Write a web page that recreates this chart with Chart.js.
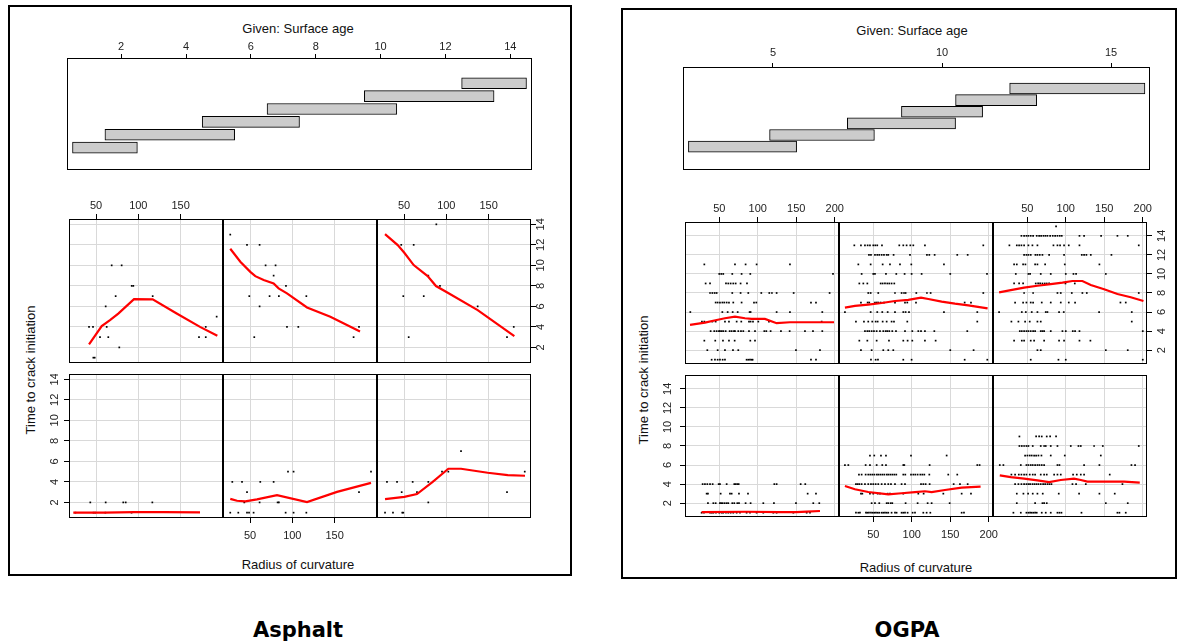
<!DOCTYPE html>
<html><head><meta charset="utf-8">
<script src="https://cdn.jsdelivr.net/npm/chart.js@4.4.1/dist/chart.umd.min.js"></script>
<style>
html,body{margin:0;padding:0;background:#fff;}
body{width:1183px;height:642px;position:relative;overflow:hidden;font-family:"Liberation Sans",Arial,sans-serif;color:#111;}
.frame{position:absolute;border:2px solid #000;box-sizing:border-box;}
.lbl{position:absolute;white-space:nowrap;font-size:13px;transform:translate(-50%,-50%);}
.rot{transform:translate(-50%,-50%) rotate(-90deg);}
.ttl{position:absolute;white-space:nowrap;font-family:"DejaVu Sans",sans-serif;font-weight:bold;font-size:21px;transform:translate(-50%,-50%);color:#000;}
canvas{position:absolute;}
</style></head><body>
<div class="frame" style="left:8px;top:5px;width:564px;height:571px;"></div>
<div class="frame" style="left:621px;top:8px;width:556px;height:571px;"></div>
<div class="lbl" style="left:298px;top:28px;">Given: Surface age</div>
<div class="lbl" style="left:912px;top:30px;">Given: Surface age</div>
<div class="lbl rot" style="left:30px;top:370px;">Time to crack initiation</div>
<div class="lbl rot" style="left:643px;top:380px;">Time to crack initiation</div>
<div class="lbl" style="left:298px;top:564px;">Radius of curvature</div>
<div class="lbl" style="left:916px;top:567px;">Radius of curvature</div>
<div class="ttl" style="left:298px;top:630px;">Asphalt</div>
<div class="ttl" style="left:907px;top:630px;">OGPA</div>
<script>
// ---------- tick labels ----------
const timeTicks = [2, 4, 6, 8, 10, 12, 14];
const asphaltRadiusTicks = [50, 100, 150];
const ogpaRadiusTicks = [50, 100, 150, 200];
const asphaltAgeTicks = [2, 4, 6, 8, 10, 12, 14];
const ogpaAgeTicks = [5, 10, 15];

// ---------- given intervals (surface age) ----------
const asphaltAgeFrom = [0.5, 1.5, 4.5, 6.5, 9.5, 12.5];
const asphaltAgeTo   = [2.5, 5.5, 7.5, 10.5, 13.5, 14.5];
const ogpaAgeFrom = [2.5, 4.9, 7.2, 8.8, 10.4, 12.0];
const ogpaAgeTo   = [5.7, 8.0, 10.4, 11.2, 12.8, 16.0];

// ---------- points: rows of [time to crack initiation, [radius values]] ----------
// Asphalt, panels 1..3 = bottom row, 4..6 = top row
const asphaltPts1 = [[2, [43.2, 61.4, 82.2, 85.1, 116.6]], [1, [25.6, 47.0, 49.0, 61.0, 92.0]]];
const asphaltPts2 = [[5, [94.9, 101.5, 193.1]], [4, [29.0, 40.5, 62.1, 77.9]], [3, [46.4, 178.9]], [2, [43.2, 61.3, 82.6, 84.1]], [1, [26.6, 36.1, 46.4, 48.8, 54.2, 92.1, 101.5, 116.6]]];
const asphaltPts3 = [[7, [117.4]], [5, [94.9, 102.4, 192.8]], [4, [29.8, 41.7, 60.2, 78.7]], [3, [47.2, 65.3, 171.8]], [2, [78.7]], [1, [27.5, 36.9, 47.9, 49.1]]];
const asphaltPts4 = [[10, [68.5, 80.3]], [8, [92.2, 94.1]], [7, [73.2, 117.0]], [6, [61.4]], [5, [192.7]], [4, [41.7, 46.4, 62.6, 179.8]], [3, [54.7, 64.5, 171.8, 179.8]], [2, [77.5]], [1, [46.8, 48.4]]];
const asphaltPts5 = [[13, [26.6]], [12, [46.4, 61.3]], [10, [68.4, 80.2]], [9, [77.9]], [8, [92.5]], [7, [49.1, 73.1, 84.1, 116.6]], [6, [61.3]], [4, [93.7, 107.1, 178.9]], [3, [55.0, 172.5]]];
const asphaltPts6 = [[14, [88.2]], [12, [46.7, 61.4]], [9, [78.7]], [8, [92.5]], [7, [49.1, 73.3]], [6, [137.1]], [4, [179.8]], [3, [55.5, 171.8]]];

// Asphalt smooth lines [radius, time]
const asphaltFit1 = [[23.1, 1.0], [60, 1.0], [95, 1.05], [130, 1.05], [173, 1.02]];
const asphaltFit2 = [[26.6, 2.35], [34.6, 2.16], [44.4, 2.1], [58.2, 2.29], [81.9, 2.71], [117.4, 2.03], [152.9, 3.03], [193.1, 3.91]];
const asphaltFit3 = [[27.5, 2.32], [50.3, 2.54], [65.3, 2.81], [83.9, 4.01], [102.4, 5.28], [117.4, 5.28], [149, 4.89], [172.7, 4.66], [193.1, 4.6]];
const asphaltFit4 = [[41.7, 2.3], [56.7, 4.08], [66.5, 4.66], [76.3, 5.3], [94.9, 6.7], [117, 6.68], [145.4, 5.3], [173, 4.0], [193.5, 3.13]];
const asphaltFit5 = [[26.6, 11.62], [38.5, 10.35], [50.3, 9.37], [56.2, 8.95], [66.1, 8.57], [77.9, 8.24], [83.8, 7.76], [93.7, 7.27], [117.4, 5.9], [145, 4.99], [180.1, 3.56]];
const asphaltFit6 = [[27.5, 13.05], [42.5, 11.98], [50.3, 11.23], [61.4, 10.03], [77.9, 8.96], [87.8, 7.98], [101.7, 7.33], [137.1, 5.64], [180.5, 3.1]];

// OGPA points
const ogpaPts1 = [
  [4, [28.4, 31.4, 34.5, 38.0, 41.4, 49.2, 50.9, 59.6, 69.5, 71.3, 73.4, 75.2, 121.5, 124.5, 155.7, 161.7]],
  [3, [33.6, 35.3, 51.8, 63.9, 66.1, 75.6, 87.3, 164.8, 175.6]],
  [2, [35.3, 42.3, 45.3, 50.9, 52.6, 54.4, 57.0, 59.6, 61.7, 66.9, 69.5, 73.4, 75.6, 84.2, 90.7, 107.2, 121.0, 149.6, 172.1, 179.9]],
  [1, [27.1, 30.1, 38.0, 40.1, 42.3, 45.7, 50.0, 53.1, 55.2, 58.7, 61.7, 64.8, 68.2, 72.6, 76.9, 85.5, 89.9, 98.5, 107.2, 120.2, 124.5, 146.2, 163.5, 167.8]]
];
const ogpaPts2 = [
  [7, [45.7, 51.3, 60.0, 66.5, 99.0, 145.3]],
  [6, [13.2, 17.6, 40.1, 45.7, 54.4, 61.7, 66.5, 89.0, 90.3, 123.2, 185.1, 188.1]],
  [5, [31.4, 34.9, 40.1, 43.5, 46.1, 48.7, 51.3, 54.4, 56.5, 59.1, 61.7, 64.3, 67.4, 69.5, 72.1, 74.7, 77.3, 79.9, 89.0, 91.6, 99.0, 102.0, 104.6, 107.6, 111.1, 113.7, 116.3, 122.8, 147.4, 159.1]],
  [4, [27.5, 29.7, 31.9, 34.9, 39.2, 43.5, 47.0, 50.0, 53.1, 56.5, 60.9, 65.2, 69.5, 73.0, 78.2, 86.8, 91.2, 112.0, 115.0, 118.0, 123.2, 154.4, 162.6, 172.6]],
  [3, [34.0, 35.8, 45.7, 50.0, 55.7, 58.7, 68.7, 71.7, 89.0, 108.5, 115.4, 141.0, 164.8, 176.9]],
  [2, [47.9, 52.2, 57.8, 67.4, 69.5, 72.6, 74.7, 92.0, 107.6, 120.6, 125.8, 149.2]],
  [1, [27.5, 30.6, 32.7, 40.5, 42.3, 44.4, 47.0, 49.2, 51.3, 53.5, 55.7, 57.8, 60.9, 63.0, 65.2, 67.4, 69.5, 73.8, 78.2, 80.3, 86.8, 89.0, 91.2, 94.6, 101.1, 104.2, 115.0, 119.3, 124.1, 164.8, 167.8]]
];
const ogpaPts3 = [
  [9, [39.8, 61.5, 65.4, 68.8, 75.3, 79.7, 87.4]],
  [8, [39.8, 42.9, 45.9, 48.9, 51.5, 57.1, 67.5, 71.9, 74.0, 80.5, 89.2, 106.5, 116.5, 119.5, 136.8, 148.1, 194.8]],
  [7, [47.2, 50.2, 53.2, 55.8, 58.9, 61.5, 64.5, 68.4, 80.5, 98.7, 145.5]],
  [6, [14.3, 19.0, 41.6, 48.9, 51.5, 54.5, 57.1, 60.2, 63.2, 65.8, 68.8, 71.9, 89.2, 91.8, 123.8, 143.7, 185.3, 190.0]],
  [5, [29.4, 34.2, 39.0, 42.4, 45.9, 48.9, 53.2, 57.1, 60.2, 67.5, 71.9, 75.3, 84.9, 89.2, 93.5, 109.5, 114.3, 119.5, 123.8, 157.1]],
  [4, [34.2, 38.5, 42.4, 45.9, 48.9, 51.5, 53.7, 56.7, 59.3, 61.9, 64.5, 67.5, 70.6, 73.2, 76.2, 78.8, 81.4, 108.7, 113.4, 126.0, 173.6]],
  [3, [36.4, 45.0, 51.1, 57.1, 63.2, 70.1, 90.9, 117.3, 143.7, 163.6]],
  [2, [36.4, 60.2, 69.7, 71.9, 75.3, 152.0, 180.5]],
  [1, [32.0, 41.6, 48.9, 51.5, 53.7, 55.8, 58.0, 60.2, 62.3, 68.8, 74.0, 80.5, 89.2, 91.8, 94.4, 120.4, 167.1, 169.7, 177.9]]
];
const ogpaPts4 = [
  [11, [30.6, 70.4, 84.2, 98.5, 141.8]],
  [10, [50.0, 52.6, 55.2, 66.9, 79.0, 90.3, 197.7]],
  [9, [32.3, 38.0, 58.7, 61.7, 64.8, 68.2, 71.3, 77.7, 86.0]],
  [8, [38.0, 41.0, 44.0, 46.6, 66.9, 77.7, 87.7, 104.6, 115.0, 118.4, 124.5, 146.6, 193.3]],
  [7, [45.3, 47.9, 50.9, 54.0, 56.5, 59.6, 62.6, 68.2, 79.0, 95.1, 98.1, 169.1, 175.6]],
  [6, [12.4, 54.0, 60.9, 67.4, 73.9, 89.4, 90.7, 124.5, 141.8, 183.8]],
  [5, [27.5, 30.6, 41.0, 45.3, 57.4, 62.6, 72.6, 78.6, 88.6, 90.7, 93.8, 100.7, 114.5, 183.0]],
  [4, [38.8, 43.5, 46.6, 49.6, 50.9, 53.1, 55.2, 58.3, 63.5, 66.1, 69.1, 70.4, 74.7, 78.2, 81.2, 88.6, 96.4, 108.5, 111.1, 116.7, 130.1, 141.4, 161.3, 171.7, 183.8]],
  [3, [30.6, 44.8, 54.8, 62.6, 70.0, 90.3, 96.4]],
  [2, [34.5, 47.9, 57.4, 67.8, 74.7, 149.6, 180.8]],
  [1, [40.1, 44.4, 47.9, 50.9, 54.4, 57.4, 85.5, 87.7, 89.9, 92.0, 93.3, 169.1, 175.6]]
];
const ogpaPts5 = [
  [13, [25.4, 34.0, 39.2, 42.7, 45.7, 50.0, 52.6, 55.2, 61.3, 83.8, 89.0, 93.3, 98.1, 102.0, 117.1, 192.9]],
  [12, [44.4, 47.0, 52.2, 55.2, 57.8, 60.9, 63.9, 67.4, 69.5, 76.4, 97.7, 119.7, 122.8, 129.7, 159.1, 172.6]],
  [11, [30.6, 46.6, 62.2, 71.7, 84.7, 99.4, 141.8]],
  [10, [34.9, 50.0, 52.2, 66.5, 79.9, 90.7, 99.8, 112.8, 150.0, 197.7]],
  [9, [31.9, 37.1, 42.3, 59.6, 62.2, 65.2, 68.2, 70.8, 73.8, 77.3]],
  [8, [43.5, 46.6, 56.5, 78.2, 86.8, 89.9, 92.0, 105.9, 119.7, 124.5, 192.9]],
  [7, [34.0, 42.7, 44.8, 52.2, 54.4, 56.5, 59.6, 63.9, 78.2, 91.2, 94.2, 105.5, 168.7, 176.9]],
  [6, [13.2, 46.6, 55.2, 61.7, 68.7, 78.2, 89.0, 92.0, 96.4, 141.8, 185.1]],
  [5, [27.5, 37.9, 43.5, 48.7, 53.1, 55.7, 62.2, 67.4, 73.8, 76.9, 94.2, 185.1]],
  [4, [39.2, 42.3, 44.8, 47.9, 50.9, 54.4, 58.7, 63.0, 66.1, 68.2, 70.8, 74.7, 79.5, 91.2, 100.7, 108.5, 112.0, 117.1, 129.3, 172.1]],
  [3, [31.9, 42.3, 54.4, 70.4, 89.0, 94.6, 100.7, 117.1, 131.0]],
  [2, [34.0, 47.9, 63.0, 69.5, 76.0, 150.0, 180.3]],
  [1, [47.0, 53.1, 56.1, 89.0, 99.8, 168.7, 198.1]]
];
const ogpaPts6 = [
  [15, [87.4]],
  [14, [42.4, 45.9, 48.9, 51.5, 54.5, 57.6, 62.3, 65.4, 68.0, 71.0, 73.6, 76.2, 79.7, 83.1, 86.2, 89.2, 92.2, 94.8, 117.8, 123.8, 145.9, 167.1, 180.5]],
  [13, [26.8, 36.4, 39.4, 42.4, 45.9, 51.5, 56.7, 63.2, 84.0, 89.2, 92.6, 97.8, 103.9, 117.8, 194.8]],
  [12, [45.9, 48.9, 51.5, 54.5, 60.6, 63.2, 66.2, 69.7, 78.4, 97.8, 120.8, 123.8, 126.8, 132.5, 159.3]],
  [11, [32.9, 36.4, 44.6, 47.6, 60.2, 63.2, 73.2, 98.7, 143.7]],
  [10, [35.1, 51.5, 53.7, 67.5, 80.5, 100.0, 110.0, 113.4, 152.0]],
  [9, [32.9, 39.4, 44.6, 61.0, 64.1, 66.7, 69.7, 72.7, 75.3, 78.4, 99.6, 111.7]],
  [8, [45.9, 57.6, 89.2, 93.5, 107.8, 121.6, 127.3, 194.8]],
  [7, [34.2, 44.6, 48.9, 54.5, 57.6, 68.8, 80.5, 93.5, 103.9, 112.1, 171.0, 177.9]],
  [6, [13.4, 42.9, 48.1, 55.8, 63.2, 74.0, 76.2, 91.3, 97.4, 143.3, 185.7]],
  [5, [29.4, 38.5, 47.2, 53.2, 63.2, 67.5, 185.7]],
  [4, [40.3, 42.9, 45.9, 48.9, 51.5, 54.5, 57.6, 60.2, 67.5, 69.7, 71.9, 80.5, 95.7, 100.0, 109.1, 112.1, 117.8, 200.0]],
  [3, [32.9, 42.9, 45.9, 54.5, 58.9, 71.9, 91.3, 97.8, 117.8, 132.0]],
  [2, [63.2, 67.5, 152.0, 180.5]],
  [1, [54.5, 90.5, 100.0, 200.0]]
];

// OGPA smooth lines [radius, time]
const ogpaFit1 = [[27.1, 1.07], [85.5, 1.1], [128.8, 1.07], [150, 1.07], [163.5, 1.12], [180.8, 1.18]];
const ogpaFit2 = [[13.2, 3.8], [26.2, 3.46], [43.5, 3.17], [69.5, 2.93], [86.8, 3.04], [104.2, 3.17], [117.1, 3.25], [125.8, 3.17], [143.1, 3.38], [164.8, 3.63], [189.4, 3.74]];
const ogpaFit3 = [[14.3, 4.92], [28.6, 4.74], [45.9, 4.57], [63.2, 4.4], [78.4, 4.22], [93.5, 4.43], [110.8, 4.57], [119.5, 4.43], [128.1, 4.26], [149.8, 4.26], [175.8, 4.26], [196.1, 4.16]];
const ogpaFit4 = [[12, 4.65], [31.4, 4.89], [46.6, 5.17], [57.4, 5.35], [70.4, 5.52], [83.4, 5.35], [92, 5.28], [109.3, 5.28], [124.5, 4.83], [141.8, 4.93], [180.8, 4.93], [199, 4.93]];
const ogpaFit5 = [[13.2, 6.46], [26.2, 6.64], [43.5, 6.78], [60.9, 6.95], [78.2, 7.16], [95.5, 7.27], [112, 7.51], [121.5, 7.37], [138.8, 7.09], [156.1, 6.88], [173.4, 6.71], [198.5, 6.39]];
const ogpaFit6 = [[13.4, 8.07], [28.6, 8.31], [45.9, 8.56], [63.2, 8.76], [80.5, 8.94], [95.7, 9.08], [108.7, 9.26], [121.6, 9.26], [132.5, 8.84], [149.8, 8.39], [167.1, 7.9], [184.4, 7.55], [200.9, 7.16]];

// ---------- helpers ----------
const FONT = {family: '"Liberation Sans", Arial, sans-serif', size: 11};
function rowsToPts(rows) { const out = []; rows.forEach(([t, xs]) => xs.forEach(x => out.push({x: x, y: t}))); return out; }
function fitToPts(f) { return f.map(([x, y]) => ({x: x, y: y})); }
function zeroPad(s) { s.paddingLeft = 0; s.paddingRight = 0; s.paddingTop = 0; s.paddingBottom = 0; }

const panelDeco = {
  id: 'panelDeco',
  afterDraw(chart, args, opts) {
    const ctx = chart.ctx, a = chart.chartArea;
    ctx.save();
    ctx.strokeStyle = '#000'; ctx.lineWidth = 1;
    ctx.strokeRect(a.left + 0.5, a.top + 0.5, a.right - a.left - 1, a.bottom - a.top - 1);
    if (opts.side) {
      const ys = chart.scales.y;
      ctx.fillStyle = '#222';
      ctx.font = '11px "Liberation Sans", Arial, sans-serif';
      ctx.textAlign = 'center'; ctx.textBaseline = 'middle';
      ys.ticks.forEach(t => {
        const py = ys.getPixelForValue(t.value);
        const px = opts.side === 'left' ? a.left - opts.dist : a.right + opts.dist;
        ctx.save(); ctx.translate(px, py); ctx.rotate(-Math.PI / 2);
        ctx.fillText(String(t.value), 0, 0); ctx.restore();
      });
    }
    ctx.restore();
  }
};

function makePanel(o) {
  const xLab = !!o.xpos;
  const aT = o.xpos === 'top' ? 26 : 0, aB = o.xpos === 'bottom' ? 30 : 0;
  const aL = o.side === 'left' ? 26 : 0, aR = o.side === 'right' ? 26 : 0;
  const mX = xLab ? 14 : 0;
  const c = document.createElement('canvas');
  c.width = o.w + aL + aR + 2 * mX; c.height = o.h + aT + aB;
  c.style.left = (o.left - aL - mX) + 'px'; c.style.top = (o.top - aT) + 'px';
  document.body.appendChild(c);
  new Chart(c, {
    type: 'scatter',
    data: {datasets: [
      {data: fitToPts(o.fit), showLine: true, borderColor: '#ff0000', borderWidth: 2.2, pointRadius: 0, pointHoverRadius: 0, fill: false, tension: 0},
      {data: rowsToPts(o.pts), pointStyle: 'rect', pointRadius: 1.2, pointHoverRadius: 0, backgroundColor: '#000', borderWidth: 0, showLine: false}
    ]},
    options: {
      responsive: false, animation: false, devicePixelRatio: 1,
      layout: {padding: {left: mX, right: mX, top: 0, bottom: 0}, autoPadding: false},
      events: [],
      plugins: {legend: {display: false}, tooltip: {enabled: false}, panelDeco: {side: o.side, dist: o.dist}},
      scales: {
        x: {
          type: 'linear', position: o.xpos || 'bottom', min: o.xr[0], max: o.xr[1],
          afterBuildTicks: s => { s.ticks = o.xticks.map(v => ({value: v})); },
          afterFit: s => { s.height = xLab ? (aT || aB) : 0; zeroPad(s); },
          grid: {color: '#d9d9d9', lineWidth: 1, drawTicks: xLab, tickLength: 5, tickColor: '#000', tickWidth: 1},
          border: {display: false},
          ticks: {display: xLab, padding: o.xpos === 'top' ? 1 : 6, font: FONT, color: '#222', maxRotation: 0, autoSkip: false}
        },
        y: {
          type: 'linear', position: o.side || 'left', min: o.yr[0], max: o.yr[1],
          afterBuildTicks: s => { s.ticks = timeTicks.map(v => ({value: v})); },
          afterFit: s => { s.width = aL || aR; zeroPad(s); },
          grid: {color: '#d9d9d9', lineWidth: 1, drawTicks: !!o.side, tickLength: 5, tickColor: '#000', tickWidth: 1},
          border: {display: false},
          ticks: {display: false}
        }
      }
    },
    plugins: [panelDeco]
  });
}

function makeGiven(o) {
  const aT = 24;
  const c = document.createElement('canvas');
  c.width = o.w; c.height = o.h + aT;
  c.style.left = o.left + 'px'; c.style.top = (o.top - aT) + 'px';
  document.body.appendChild(c);
  new Chart(c, {
    type: 'bar',
    data: {datasets: [{
      data: o.from.map((a, i) => ({x: [a, o.to[i]], y: i + 1})),
      backgroundColor: '#cccccc', borderColor: '#000', borderWidth: 1, borderSkipped: false, barThickness: 11
    }]},
    options: {
      indexAxis: 'y', responsive: false, animation: false, devicePixelRatio: 1,
      layout: {padding: 0, autoPadding: false}, events: [],
      plugins: {legend: {display: false}, tooltip: {enabled: false}, panelDeco: {}},
      scales: {
        x: {
          type: 'linear', position: 'top', min: o.xr[0], max: o.xr[1],
          afterBuildTicks: s => { s.ticks = o.xticks.map(v => ({value: v})); },
          afterFit: s => { s.height = aT; zeroPad(s); },
          grid: {drawOnChartArea: false, drawTicks: true, tickLength: 4, tickColor: '#000', tickWidth: 1},
          border: {display: false},
          ticks: {padding: o.pad, font: FONT, color: '#222', maxRotation: 0, autoSkip: false}
        },
        y: {
          type: 'linear', min: o.yr[0], max: o.yr[1], display: false,
          afterFit: s => { s.width = 0; zeroPad(s); }
        }
      }
    },
    plugins: [panelDeco]
  });
}

// ---------- Asphalt ----------
const aXR = [18, 200.2], aYR = [0.48, 14.52];
makeGiven({left: 67, top: 58, w: 465, h: 112, xr: [0.33, 14.67], yr: [0.13, 7.09], xticks: asphaltAgeTicks, from: asphaltAgeFrom, to: asphaltAgeTo, pad: 0});
makePanel({left: 69,  top: 219, w: 154, h: 144, xr: aXR, yr: aYR, xticks: asphaltRadiusTicks, pts: asphaltPts4, fit: asphaltFit4, xpos: 'top'});
makePanel({left: 223, top: 219, w: 154, h: 144, xr: aXR, yr: aYR, xticks: asphaltRadiusTicks, pts: asphaltPts5, fit: asphaltFit5});
makePanel({left: 377, top: 219, w: 154, h: 144, xr: aXR, yr: aYR, xticks: asphaltRadiusTicks, pts: asphaltPts6, fit: asphaltFit6, xpos: 'top', side: 'right', dist: 10});
makePanel({left: 69,  top: 374, w: 154, h: 144, xr: aXR, yr: aYR, xticks: asphaltRadiusTicks, pts: asphaltPts1, fit: asphaltFit1, side: 'left', dist: 14});
makePanel({left: 223, top: 374, w: 154, h: 144, xr: aXR, yr: aYR, xticks: asphaltRadiusTicks, pts: asphaltPts2, fit: asphaltFit2, xpos: 'bottom'});
makePanel({left: 377, top: 374, w: 154, h: 144, xr: aXR, yr: aYR, xticks: asphaltRadiusTicks, pts: asphaltPts3, fit: asphaltFit3});

// ---------- OGPA ----------
const oXR = [5.5, 205.5], oYR = [0.55, 15.45];
makeGiven({left: 683, top: 67, w: 467, h: 103, xr: [2.34, 16.15], yr: [0.1, 6.74], xticks: ogpaAgeTicks, from: ogpaAgeFrom, to: ogpaAgeTo, pad: 3});
makePanel({left: 685, top: 222, w: 154, h: 142, xr: oXR, yr: oYR, xticks: ogpaRadiusTicks, pts: ogpaPts4, fit: ogpaFit4, xpos: 'top'});
makePanel({left: 839, top: 222, w: 154, h: 142, xr: oXR, yr: oYR, xticks: ogpaRadiusTicks, pts: ogpaPts5, fit: ogpaFit5});
makePanel({left: 993, top: 222, w: 154, h: 142, xr: oXR, yr: oYR, xticks: ogpaRadiusTicks, pts: ogpaPts6, fit: ogpaFit6, xpos: 'top', side: 'right', dist: 15});
makePanel({left: 685, top: 375, w: 154, h: 142, xr: oXR, yr: oYR, xticks: ogpaRadiusTicks, pts: ogpaPts1, fit: ogpaFit1, side: 'left', dist: 17});
makePanel({left: 839, top: 375, w: 154, h: 142, xr: oXR, yr: oYR, xticks: ogpaRadiusTicks, pts: ogpaPts2, fit: ogpaFit2, xpos: 'bottom'});
makePanel({left: 993, top: 375, w: 154, h: 142, xr: oXR, yr: oYR, xticks: ogpaRadiusTicks, pts: ogpaPts3, fit: ogpaFit3});
</script>
</body></html>
